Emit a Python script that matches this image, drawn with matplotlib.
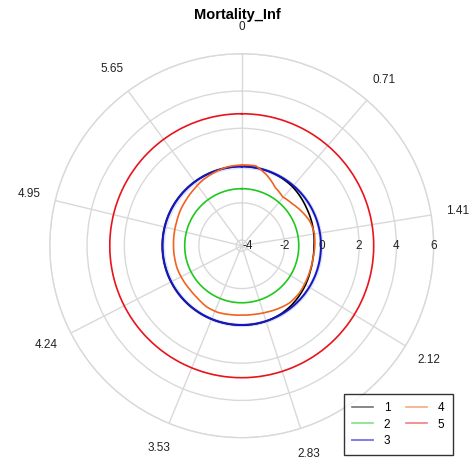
import numpy as np
import matplotlib
matplotlib.use("Agg")
from matplotlib import pyplot as plt

plt.rcParams['font.family'] = ['Liberation Sans', 'DejaVu Sans']

# angles (degrees, clockwise from top) of the sampled points
angles_deg = [0, 10, 20, 30, 40, 50, 60, 70, 80, 90, 100, 110, 120, 130, 140, 150, 160, 170,
              180, 190, 200, 210, 220, 230, 240, 250, 260, 270, 280, 290, 300, 310, 320, 330, 340, 350, 360]

series_1 = [-0.04, -0.05, -0.06, -0.08, -0.12, -0.2, -0.28, -0.33, -0.38, -0.42, -0.42, -0.38, -0.3,
            -0.22, -0.14, -0.08, -0.05, -0.04, -0.04, -0.04, -0.04, -0.04, -0.04, -0.04, -0.04, -0.04,
            -0.04, -0.04, -0.04, -0.04, -0.04, -0.04, -0.04, -0.04, -0.04, -0.04, -0.04]
series_2 = [-1.24] * 37
series_3 = [-0.05] * 37
series_3_lo = [-0.15] * 37
series_3_hi = [0.05] * 37
series_4 = [0.03, 0.05, -0.3, -0.7, -0.88, -0.78, -0.6, -0.42, -0.35, -0.38, -0.42, -0.4, -0.36,
            -0.3, -0.3, -0.4, -0.5, -0.56, -0.58, -0.55, -0.5, -0.52, -0.62, -0.66, -0.65, -0.63,
            -0.64, -0.64, -0.62, -0.58, -0.5, -0.43, -0.33, -0.2, -0.1, 0.0, 0.03]
series_5 = [2.78] * 37

# angular ticks sit at their own value in radians
theta_ticks = [0, 0.71, 1.41, 2.12, 2.83, 3.53, 4.24, 4.95, 5.65]
theta_tick_labels = ['0', '0.71', '1.41', '2.12', '2.83', '3.53', '4.24', '4.95', '5.65']
r_ticks = [-4, -2, 0, 2, 4, 6]

theta = np.deg2rad(angles_deg)
grid_col = '#d9d9d9'

fig = plt.figure(figsize=(4.74, 4.66), dpi=100)
ax = fig.add_axes([0.105, 0.0607, 0.81, 0.824], projection='polar')
ax.set_theta_zero_location('N')
ax.set_theta_direction(-1)
ax.set_ylim(-4.3, 6)

band = ax.fill_between(theta, series_3_lo, series_3_hi, color='#9fb4f0', alpha=0.35, lw=0)
lines = []
lines += ax.plot(theta, series_1, color='#000000', lw=1.2, label='1')
lines += ax.plot(theta, series_2, color='#1ec81e', lw=1.2, label='2')
lines += ax.plot(theta, series_3, color='#1515c8', lw=1.4, label='3')
lines += ax.plot(theta, series_4, color='#f0621e', lw=1.2, label='4')
lines += ax.plot(theta, series_5, color='#e8141c', lw=1.2, label='5')
# let the polar transform draw constant-radius segments as true arcs
for ln in lines:
    ln.get_path()._interpolation_steps = 20

ax.set_xticks(theta_ticks)
ax.set_xticklabels(theta_tick_labels, fontsize=8.5, color='#222222')
ax.tick_params(axis='x', pad=9)
ax.set_yticks(r_ticks)
ax.set_yticklabels([])
for r in r_ticks:
    ax.text(np.pi / 2, r, str(r), ha='center', va='center', fontsize=8.5, color='#222222')
ax.grid(True, color=grid_col, lw=1.0)
ax.spines['polar'].set_color(grid_col)
ax.spines['polar'].set_linewidth(1.0)

fig.suptitle('Mortality_Inf', fontsize=10.5, fontweight='bold', y=0.968, va='center')

leg = ax.legend(ncol=2, loc='lower right', bbox_to_anchor=(0.955, 0.0236),
                bbox_transform=fig.transFigure, borderaxespad=0, fontsize=8.5,
                frameon=True, fancybox=False, handlelength=1.8, columnspacing=1.3,
                labelspacing=0.35, borderpad=0.7, handletextpad=0.9)
leg.get_frame().set_edgecolor('#000000')
leg.get_frame().set_linewidth(1.0)
for h in leg.get_lines():
    h.set_alpha(0.55)

fig.savefig('out.png', dpi=100)
